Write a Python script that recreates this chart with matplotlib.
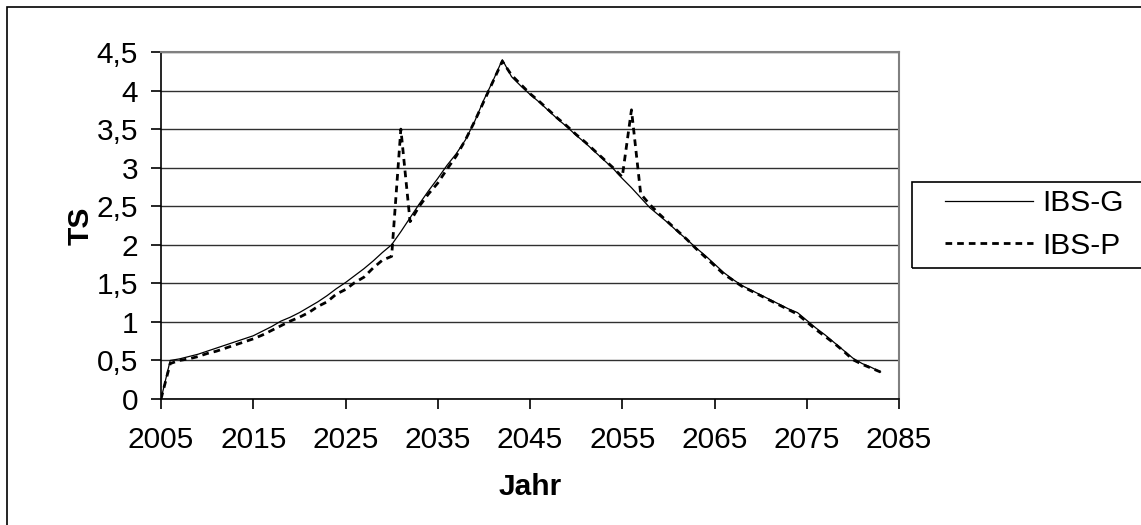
import matplotlib
matplotlib.use("Agg")
import matplotlib.pyplot as plt
from matplotlib.patches import Rectangle
from matplotlib.ticker import FuncFormatter, MultipleLocator, FixedLocator

# Years (annual values)
years = list(range(2005, 2084))

# IBS-G series
ibs_g = [
    0.00, 0.50, 0.52, 0.55, 0.58, 0.62, 0.66, 0.70, 0.74, 0.78,
    0.82, 0.88, 0.94, 1.01, 1.06, 1.12, 1.19, 1.26, 1.34, 1.43,
    1.51, 1.60, 1.69, 1.79, 1.90, 2.00, 2.17, 2.35, 2.53, 2.70,
    2.86, 3.03, 3.18, 3.36, 3.60, 3.88, 4.13, 4.40, 4.18, 4.06,
    3.95, 3.85, 3.74, 3.63, 3.53, 3.42, 3.32, 3.21, 3.10, 2.99,
    2.86, 2.74, 2.61, 2.48, 2.38, 2.28, 2.17, 2.07, 1.96, 1.86,
    1.75, 1.64, 1.55, 1.47, 1.41, 1.35, 1.29, 1.23, 1.17, 1.12,
    1.02, 0.92, 0.83, 0.73, 0.63, 0.53, 0.46, 0.41, 0.35,
]

# IBS-P series
ibs_p = [
    0.00, 0.46, 0.50, 0.52, 0.55, 0.59, 0.62, 0.66, 0.70, 0.74,
    0.78, 0.83, 0.89, 0.95, 1.01, 1.06, 1.12, 1.20, 1.26, 1.36,
    1.42, 1.51, 1.58, 1.70, 1.80, 1.85, 3.50, 2.30, 2.50, 2.66,
    2.80, 2.98, 3.15, 3.36, 3.60, 3.86, 4.12, 4.38, 4.20, 4.08,
    3.96, 3.86, 3.75, 3.64, 3.54, 3.43, 3.33, 3.22, 3.11, 3.00,
    2.88, 3.75, 2.66, 2.52, 2.40, 2.29, 2.18, 2.07, 1.95, 1.84,
    1.73, 1.62, 1.54, 1.46, 1.40, 1.34, 1.28, 1.22, 1.16, 1.10,
    1.00, 0.90, 0.81, 0.72, 0.62, 0.51, 0.45, 0.40, 0.35,
]

x_ticks = list(range(2005, 2086, 10))

plt.rcParams["font.family"] = ["Liberation Sans", "DejaVu Sans"]
FS = 21.5

fig = plt.figure(figsize=(11.41, 5.25), dpi=100)
ax = fig.add_axes([161 / 1141, 1 - 399 / 525, 738 / 1141, 347 / 525])

ax.plot(years, ibs_g, color="black", lw=0.9, label="IBS-G")
ax.plot(years, ibs_p, color="black", lw=2.0, linestyle=(0, (2.4, 1.8)), label="IBS-P")

ax.set_xlim(2005, 2085)
ax.set_ylim(0, 4.5)
ax.xaxis.set_major_locator(FixedLocator(x_ticks))
ax.yaxis.set_major_locator(MultipleLocator(0.5))
ax.yaxis.set_major_formatter(FuncFormatter(lambda v, p: f"{v:g}".replace(".", ",")))
ax.grid(axis="y", color="#303030", lw=1.0)
ax.set_axisbelow(True)

ax.tick_params(direction="out", length=7.5, width=1.2, labelsize=FS)
ax.tick_params(axis="y", pad=9)
ax.tick_params(axis="x", pad=12)
for side in ["left", "bottom"]:
    ax.spines[side].set_color("black")
    ax.spines[side].set_linewidth(1.2)
for side in ["top", "right"]:
    ax.spines[side].set_color("#808080")
    ax.spines[side].set_linewidth(1.5)

ax.set_xlabel("Jahr", fontsize=FS, fontweight="bold")
ax.set_ylabel("TS", fontsize=FS, fontweight="bold")
ax.xaxis.set_label_coords(0.5, -0.213)
ax.yaxis.set_label_coords(-0.09, 0.5)

# Legend box (runs off the right edge)
fig.patches.append(Rectangle((912 / 1141, 1 - 268 / 525), 0.3, 86 / 525,
                             transform=fig.transFigure, fill=False,
                             edgecolor="black", lw=1.2))
fig.legend(loc="upper left", bbox_to_anchor=(945 / 1141, 1 - 189 / 525),
           frameon=False, fontsize=FS, borderpad=0, borderaxespad=0,
           handlelength=2.95, handletextpad=0.3, labelspacing=0.5)

# Outer chart border
fig.patches.append(Rectangle((7 / 1141, -0.05), 1.1, 1.05 - 7 / 525,
                             transform=fig.transFigure, fill=False,
                             edgecolor="black", lw=1.2))

fig.savefig("out.png", dpi=100)
